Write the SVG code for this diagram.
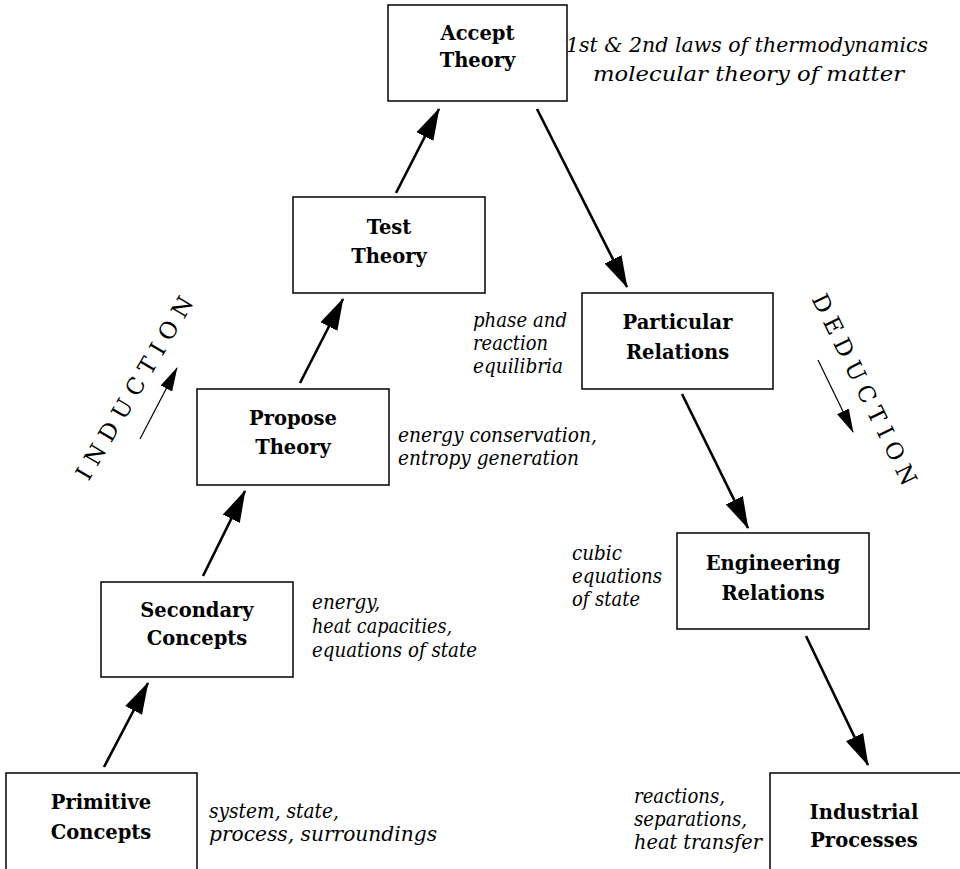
<svg xmlns="http://www.w3.org/2000/svg" width="960" height="869" viewBox="0 0 960 869">
<style>
.box{fill:#fff;stroke:#000;stroke-width:1.5}
.lbl{font-family:"DejaVu Serif","Liberation Serif",serif;font-weight:bold;font-size:19.5px;text-anchor:middle;fill:#000}
.ann{font-family:"DejaVu Serif","Liberation Serif",serif;font-style:italic;font-size:19.5px;fill:#000}
.big{font-family:"DejaVu Serif","Liberation Serif",serif;font-size:23px;text-anchor:middle;fill:#000}
.arr{stroke:#000;stroke-width:2.6;fill:none;marker-end:url(#ah)}
.thin{stroke:#000;stroke-width:1.2;fill:none;marker-end:url(#ahs)}
</style>
<defs>
<marker id="ah" markerUnits="userSpaceOnUse" markerWidth="32" markerHeight="20" viewBox="0 0 32 20" refX="31" refY="10" orient="auto">
<path d="M0,0.5 L32,10 L0,19.5 z" fill="#000"/>
</marker>
<marker id="ahs" markerUnits="userSpaceOnUse" markerWidth="24" markerHeight="14" viewBox="0 0 24 14" refX="23" refY="7" orient="auto">
<path d="M0,0.5 L24,7 L0,13.5 z" fill="#000"/>
</marker>
</defs>
<rect width="960" height="869" fill="#fff"/>

<g id="connectors">
<line class="arr" x1="104" y1="767" x2="148" y2="683"/>
<line class="arr" x1="203" y1="576" x2="245" y2="491"/>
<line class="arr" x1="300" y1="383" x2="343" y2="299"/>
<line class="arr" x1="396" y1="193" x2="439" y2="109"/>
<line class="arr" x1="537" y1="109" x2="627" y2="287"/>
<line class="arr" x1="682" y1="394" x2="748" y2="528"/>
<line class="arr" x1="806" y1="636" x2="868" y2="765"/>
</g>

<g id="accept">
<rect class="box" x="388" y="5" width="179" height="96"/>
<text class="lbl" x="477.5" y="40">Accept</text>
<text class="lbl" x="477.5" y="67">Theory</text>
</g>
<g id="test">
<rect class="box" x="293" y="197" width="192" height="96"/>
<text class="lbl" x="389" y="234">Test</text>
<text class="lbl" x="389" y="263">Theory</text>
</g>
<g id="propose">
<rect class="box" x="197" y="389" width="192" height="96"/>
<text class="lbl" x="293" y="425">Propose</text>
<text class="lbl" x="293" y="454">Theory</text>
</g>
<g id="secondary">
<rect class="box" x="101" y="582" width="192" height="95"/>
<text class="lbl" x="197" y="617">Secondary</text>
<text class="lbl" x="197" y="645">Concepts</text>
</g>
<g id="primitive">
<rect class="box" x="6" y="773" width="191" height="110"/>
<text class="lbl" x="101" y="809">Primitive</text>
<text class="lbl" x="101" y="839">Concepts</text>
</g>
<g id="particular">
<rect class="box" x="582" y="293" width="191" height="96"/>
<text class="lbl" x="677.5" y="329">Particular</text>
<text class="lbl" x="677.5" y="359">Relations</text>
</g>
<g id="engineering">
<rect class="box" x="677" y="533" width="192" height="96"/>
<text class="lbl" x="773" y="570">Engineering</text>
<text class="lbl" x="773" y="600">Relations</text>
</g>
<g id="industrial">
<rect class="box" x="770" y="773" width="192" height="110"/>
<text class="lbl" x="864" y="819">Industrial</text>
<text class="lbl" x="864" y="847">Processes</text>
</g>

<g id="annotations">
<text class="ann" x="566" y="52" textLength="362" lengthAdjust="spacingAndGlyphs">1st &amp; 2nd laws of thermodynamics</text>
<text class="ann" x="593" y="81" textLength="311" lengthAdjust="spacingAndGlyphs">molecular theory of matter</text>
<text class="ann" x="473" y="327" textLength="94" lengthAdjust="spacingAndGlyphs">phase and</text>
<text class="ann" x="473" y="350" textLength="75" lengthAdjust="spacingAndGlyphs">reaction</text>
<text class="ann" x="473" y="373" textLength="90" lengthAdjust="spacingAndGlyphs">equilibria</text>
<text class="ann" x="398" y="442" textLength="199" lengthAdjust="spacingAndGlyphs">energy conservation,</text>
<text class="ann" x="398" y="465" textLength="181" lengthAdjust="spacingAndGlyphs">entropy generation</text>
<text class="ann" x="572" y="560" textLength="50" lengthAdjust="spacingAndGlyphs">cubic</text>
<text class="ann" x="572" y="583" textLength="90" lengthAdjust="spacingAndGlyphs">equations</text>
<text class="ann" x="572" y="606" textLength="68" lengthAdjust="spacingAndGlyphs">of state</text>
<text class="ann" x="312" y="609" textLength="68" lengthAdjust="spacingAndGlyphs">energy,</text>
<text class="ann" x="312" y="633" textLength="140" lengthAdjust="spacingAndGlyphs">heat capacities,</text>
<text class="ann" x="312" y="657" textLength="165" lengthAdjust="spacingAndGlyphs">equations of state</text>
<text class="ann" x="209" y="818" textLength="130" lengthAdjust="spacingAndGlyphs">system, state,</text>
<text class="ann" x="209" y="841" textLength="228" lengthAdjust="spacingAndGlyphs">process, surroundings</text>
<text class="ann" x="634" y="803" textLength="91" lengthAdjust="spacingAndGlyphs">reactions,</text>
<text class="ann" x="634" y="826" textLength="113" lengthAdjust="spacingAndGlyphs">separations,</text>
<text class="ann" x="634" y="849" textLength="128" lengthAdjust="spacingAndGlyphs">heat transfer</text>
</g>

<g id="induction">
<text class="big" transform="translate(134.5,388) rotate(-59.5)" x="0" y="8" textLength="208" lengthAdjust="spacing">INDUCTION</text>
<line class="thin" x1="140" y1="439" x2="177" y2="368"/>
</g>
<g id="deduction">
<text class="big" transform="translate(864.5,389.5) rotate(64)" x="0" y="8" textLength="210" lengthAdjust="spacing">DEDUCTION</text>
<line class="thin" x1="818" y1="360" x2="853" y2="432"/>
</g>
</svg>
